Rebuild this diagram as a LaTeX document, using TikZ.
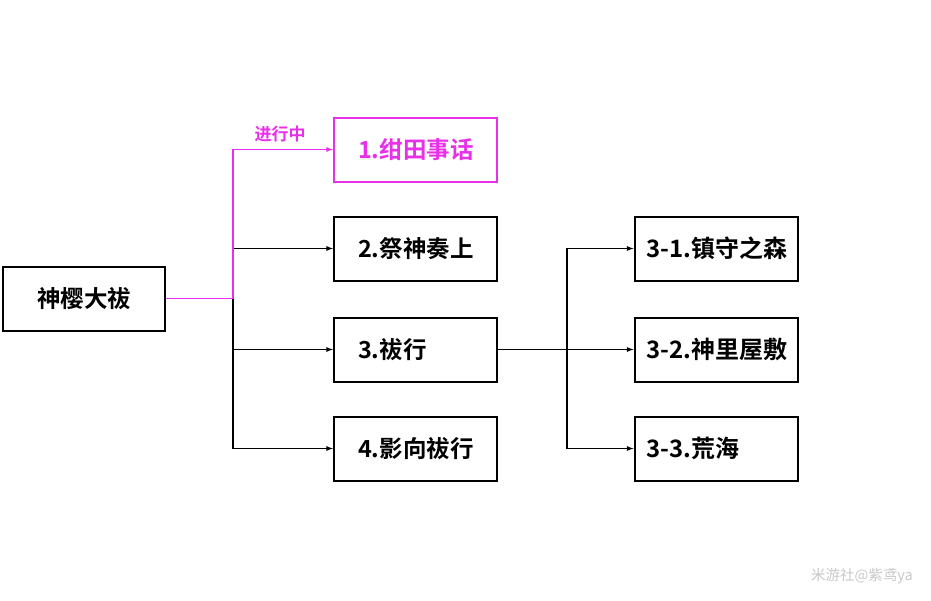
\documentclass[tikz,border=0pt]{standalone}
\usepackage{fontspec}
\setmainfont{Noto Sans CJK SC}[BoldFont={Noto Sans CJK SC Bold}]
\newfontfamily\cjk{Noto Sans CJK SC}
\definecolor{doing}{RGB}{232,48,232}
\definecolor{signgray}{RGB}{200,200,200}
\tikzset{
  box/.style={draw, line width=2pt, rectangle, minimum height=64pt, text width=115pt, inner xsep=24pt, align=left, font=\fontsize{23.5}{26}\selectfont\bfseries},
  subbox/.style={box, text width=139pt, inner xsep=12pt, font=\fontsize{24}{26}\selectfont\bfseries, execute at begin node=\exhyphenpenalty10000\hfuzz50pt\relax},
  rootbox/.style={box, text width=162pt, inner xsep=0pt, align=center},
  link/.style={line width=1.3pt, -latex},
}
\begin{document}
\begin{tikzpicture}[x=1pt, y=-1pt]
\useasboundingbox (0,0) rectangle (931,600);
\node[rootbox] (root) at (84,298.5){神樱大祓};
\node[box, doing, text=doing] (t1) at (415.5,149.5){1.绀田事话};
\node[box] (t2) at (415.5,248.5){2.祭神奏上};
\node[box] (t3) at (415.5,349.5){3.祓行};
\node[box] (t4) at (415.5,448.5){4.影向祓行};
\node[subbox] (s1) at (716,248.5){3-1.镇守之森};
\node[subbox] (s2) at (716,349.5){3-2.神里屋敷};
\node[subbox] (s3) at (716,448.5){3-3.荒海};
\coordinate (fork) at (233,298.5);
\coordinate (fork3) at (567,349.5);
\draw[link](fork) |- (t2);
\draw[link](fork) |- (t3);
\draw[link](fork) |- (t4);
\draw[line width=1.3pt, doing](root) -- (fork);
\draw[link, doing](fork) |- (t1);
\draw[link](t3) -- (s2);
\draw[link](fork3) |- (s1);
\draw[link](fork3) |- (s3);
\node[doing, font=\fontsize{17}{19}\selectfont\bfseries] (tag) at (280,134){进行中};
\node[signgray, font=\fontsize{14.5}{16}\selectfont] (sign) at (862,576){米游社@紫鸢ya};

\end{tikzpicture}
\end{document}
